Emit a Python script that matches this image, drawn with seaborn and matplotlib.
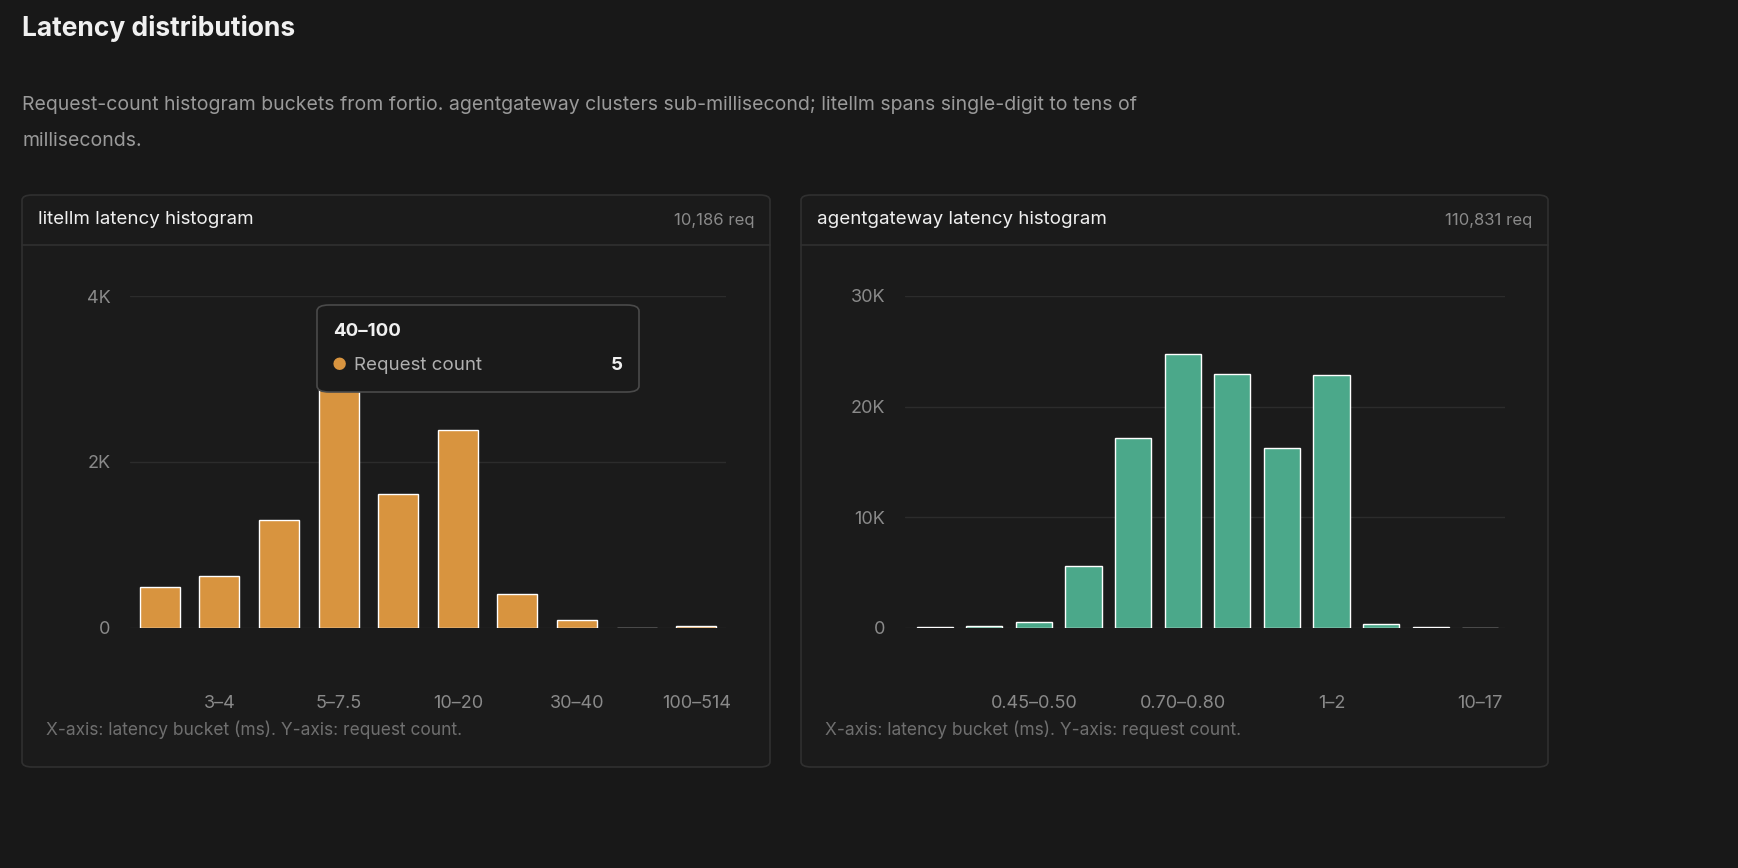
import numpy as np
import pandas as pd
import seaborn as sns
import matplotlib.pyplot as plt
from matplotlib.patches import FancyBboxPatch

litellm_buckets = ["2–3", "3–4", "4–5", "5–7.5", "7.5–10", "10–20", "20–30", "30–40", "40–100", "100–514"]
litellm_counts = [494, 627, 1300, 3234, 1614, 2386, 410, 96, 5, 20]
litellm_shown = ["3–4", "5–7.5", "10–20", "30–40", "100–514"]

agw_buckets = ["0.35–0.40", "0.40–0.45", "0.45–0.50", "0.50–0.60", "0.60–0.70", "0.70–0.80",
               "0.80–0.90", "0.90–1", "1–2", "2–5", "5–10", "10–17"]
agw_counts = [60, 160, 560, 5620, 17150, 24750, 22950, 16250, 22850, 380, 60, 20]
agw_shown = ["0.45–0.50", "0.70–0.80", "1–2", "10–17"]

BG = "#181818"
CARD = "#1b1b1b"
EDGE = "#303030"
GRID = "#2c2c2c"
MUTED = "#8a8a8a"
TEXT = "#f0f0f0"

sns.set_theme(style="dark")
plt.rcParams['font.family'] = ['Inter', 'DejaVu Sans']

W, H = 1738, 868
fig = plt.figure(figsize=(W / 100, H / 100), dpi=100, facecolor=BG)

def fx(px): return px / W
def fy(py): return 1 - py / H

fig.text(fx(22), fy(28), "Latency distributions", color=TEXT, fontsize=19, fontweight="bold", va="center")
fig.text(fx(22), fy(105), "Request-count histogram buckets from fortio. agentgateway clusters sub-millisecond; litellm spans single-digit to tens of",
         color="#9a9a9a", fontsize=14, va="center")
fig.text(fx(22), fy(141), "milliseconds.", color="#9a9a9a", fontsize=14, va="center")

def card(x0, x1, title, total):
    y0, y1 = 195, 767
    p = FancyBboxPatch((fx(x0), fy(y1)), fx(x1 - x0), fy(y0) - fy(y1),
                       boxstyle="round,pad=0,rounding_size=0.006", transform=fig.transFigure,
                       facecolor=CARD, edgecolor=EDGE, linewidth=1.2, zorder=-5)
    fig.patches.append(p)
    fig.add_artist(plt.Line2D([fx(x0), fx(x1)], [fy(245), fy(245)], color=EDGE, lw=1.2,
                              transform=fig.transFigure, zorder=-4))
    fig.text(fx(x0 + 16), fy(220), title, color=TEXT, fontsize=13.5, va="center")
    fig.text(fx(x1 - 16), fy(220), total, color=MUTED, fontsize=12, va="center", ha="right")
    fig.text(fx(x0 + 24), fy(730), "X-axis: latency bucket (ms). Y-axis: request count.", color="#6f6f6f", fontsize=12.5, va="center")

def chart(left, right, buckets, counts, shown, color, ymax, yticks, ylabels, xlo, width):
    ax = fig.add_axes([fx(left), fy(628), fx(right - left), fy(296) - fy(628)])
    ax.set_facecolor(CARD)
    ax.patch.set_alpha(0)
    df = pd.DataFrame({"bucket": buckets, "count": counts})
    sns.barplot(data=df, x="bucket", y="count", color=color, width=width, saturation=1, ax=ax, zorder=3)
    ax.set_xlim(xlo, len(buckets) - 0.5)
    ax.set_ylim(0, ymax)
    ax.set_yticks(yticks)
    ax.set_yticklabels(ylabels, color=MUTED, fontsize=13)
    ax.set_xticks(range(len(buckets)))
    ax.set_xticklabels([b if b in shown else "" for b in buckets], color=MUTED, fontsize=13)
    ax.tick_params(axis="x", pad=48, length=0)
    ax.tick_params(axis="y", pad=14, length=0)
    ax.set_xlabel("")
    ax.set_ylabel("")
    for t in yticks:
        ax.axhline(t, color=GRID, lw=1, zorder=0)
    for s in ax.spines.values():
        s.set_visible(False)
    ax.grid(False)
    return ax

card(22, 770, "litellm latency histogram", "10,186 req")
card(801, 1548, "agentgateway latency histogram", "110,831 req")

chart(130, 726, litellm_buckets, litellm_counts, litellm_shown, "#d8943f", 4000,
      [0, 2000, 4000], ["0", "2K", "4K"], -0.5, 0.67)
chart(905, 1505, agw_buckets, agw_counts, agw_shown, "#4ba88a", 30000,
      [0, 10000, 20000, 30000], ["0", "10K", "20K", "30K"], -0.6, 0.73)

# tooltip
tip = FancyBboxPatch((fx(317), fy(392)), fx(322), fy(305) - fy(392),
                     boxstyle="round,pad=0,rounding_size=0.007", transform=fig.transFigure,
                     facecolor="#1a1a1a", edgecolor="#4a4a4a", linewidth=1.2, zorder=10)
fig.patches.append(tip)
fig.text(fx(333), fy(332), "40–100", color=TEXT, fontsize=13.5, fontweight="bold", va="center", zorder=11)
fig.text(fx(339), fy(365), "●", color="#d8943f", fontsize=12, va="center", ha="center", zorder=11)
fig.text(fx(354), fy(365), "Request count", color="#b0b0b0", fontsize=13.5, va="center", zorder=11)
fig.text(fx(623), fy(365), "5", color=TEXT, fontsize=13.5, fontweight="bold", va="center", ha="right", zorder=11)

fig.savefig("out.png", dpi=100, facecolor=BG)
